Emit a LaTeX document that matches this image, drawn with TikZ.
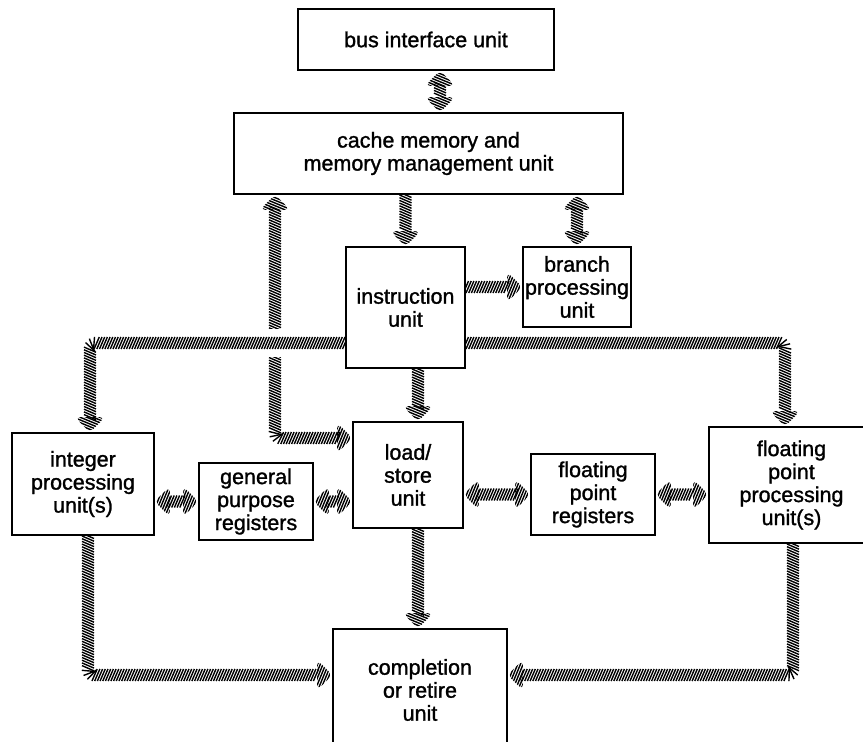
\documentclass[tikz,border=0pt]{standalone}
\usepackage{fontspec}
\newfontfamily\unitfamily{Liberation Sans}[FakeBold=1.3]
\usetikzlibrary{decorations.markings,backgrounds}
\newcommand{\labelfont}{\unitfamily\fontsize{21.5}{23}\selectfont}
\tikzset{
  unitbox/.style={draw, line width=1.8pt, fill=white, align=center, inner sep=0pt, font=\labelfont},
  hatchstroke/.style={line width=1.4pt, line cap=butt},
  % a wide band made of short slanted strokes
  hatch/.style 2 args={postaction={decorate, decoration={markings,
      mark=between positions #1 and #2 step 2.7pt with {\draw[hatchstroke] (-2.6pt,-6pt) -- (2.6pt,6pt);}}}},
  % hatched triangular heads, pointing forward at the end, backward at the start
  headend/.style={postaction={decorate, decoration={markings,
      mark=at position 1 with {\begin{scope}
          \clip (0.5pt,0pt) -- (-15pt,15pt) -- (-15pt,-15pt) -- cycle;
          \foreach \k in {-10,...,3} \draw[hatchstroke] ({\k*2.7pt-7pt},-17pt) -- ({\k*2.7pt+7pt},17pt);
        \end{scope}}}}},
  headstart/.style={postaction={decorate, decoration={markings,
      mark=at position 0 with {\begin{scope}
          \clip (-0.5pt,0pt) -- (15pt,15pt) -- (15pt,-15pt) -- cycle;
          \foreach \k in {-3,...,10} \draw[hatchstroke] ({\k*2.7pt-7pt},-17pt) -- ({\k*2.7pt+7pt},17pt);
        \end{scope}}}}},
  oneway/.style={rounded corners=6pt, hatch={0pt}{-14pt}, headend},
  twoway/.style={rounded corners=6pt, hatch={14pt}{-14pt}, headstart, headend},
}
\begin{document}
\begin{tikzpicture}[x=1pt, y=-1pt]
\useasboundingbox (0,0) rectangle (863,742);
\clip (0,0) rectangle (863,742);

% functional units
\node[unitbox, minimum width=256pt, minimum height=61pt] (bus) at (426,39.5) {bus interface unit};
\node[unitbox, minimum width=389pt, minimum height=81pt] (cache) at (428.5,153.5) {cache memory and\\memory management unit};
\node[unitbox, minimum width=119pt, minimum height=121pt] (instr) at (405.5,307.5) {instruction\\unit};
\node[unitbox, minimum width=108pt, minimum height=80pt] (branch) at (577,287) {branch\\processing\\unit};
\node[unitbox, minimum width=142pt, minimum height=102pt] (int) at (83,484) {integer\\processing\\unit(s)};
\node[unitbox, minimum width=114pt, minimum height=77pt] (gpr) at (256,501.5) {general\\purpose\\registers};
\node[unitbox, minimum width=110pt, minimum height=106pt] (ls) at (408,475) {load/\\store\\unit};
\node[unitbox, minimum width=124pt, minimum height=81pt] (fpr) at (593,494.5) {floating\\point\\registers};
\node[unitbox, minimum width=165pt, minimum height=116pt] (fpu) at (791.5,485) {floating\\point\\processing\\unit(s)};
\node[unitbox, minimum width=174pt, minimum height=122pt] (comp) at (420,690) {completion\\or retire\\unit};

% bend points of the routed buses
\coordinate (bx) at (440,0);
\coordinate (lsx) at (418,0);
\coordinate (lsj) at (275,438);
\coordinate (ij) at (90,343);
\coordinate (fj) at (785,343);
\coordinate (ic) at (88,675);
\coordinate (fc) at (793,675);

\begin{scope}[on background layer]
  \path[twoway] (bus.south -| bx) -- (cache.north -| bx);
  \path[oneway] (cache.south -| instr.north) -- (instr.north);
  \path[twoway] (cache.south -| branch.north) -- (branch.north);
  \path[oneway] (branch.west -| instr.east) -- (branch.west);
  \path[twoway] (cache.south -| lsj) -- (lsj) -- (lsj -| ls.west);
  % the load/store bus passes under the integer dispatch bus
  \draw[white, line width=28pt] ([xshift=-12pt]lsj |- ij) -- ([xshift=12pt]lsj |- ij);
  \path[oneway] (ij -| instr.west) -- (ij) -- (ij |- int.north);
  \path[oneway] (fj -| instr.east) -- (fj) -- (fj |- fpu.north);
  \path[oneway] (instr.south -| lsx) -- (ls.north -| lsx);
  \path[twoway] (gpr.west -| int.east) -- (gpr.west);
  \path[twoway] (gpr.east) -- (gpr.east -| ls.west);
  \path[twoway] (fpr.west -| ls.east) -- (fpr.west);
  \path[twoway] (fpr.east) -- (fpr.east -| fpu.west);
  \path[oneway] (ls.south -| lsx) -- (comp.north -| lsx);
  \path[oneway] (ic |- int.south) -- (ic) -- (ic -| comp.west);
  \path[oneway] (fc |- fpu.south) -- (fc) -- (fc -| comp.east);
\end{scope}
\end{tikzpicture}
\end{document}
